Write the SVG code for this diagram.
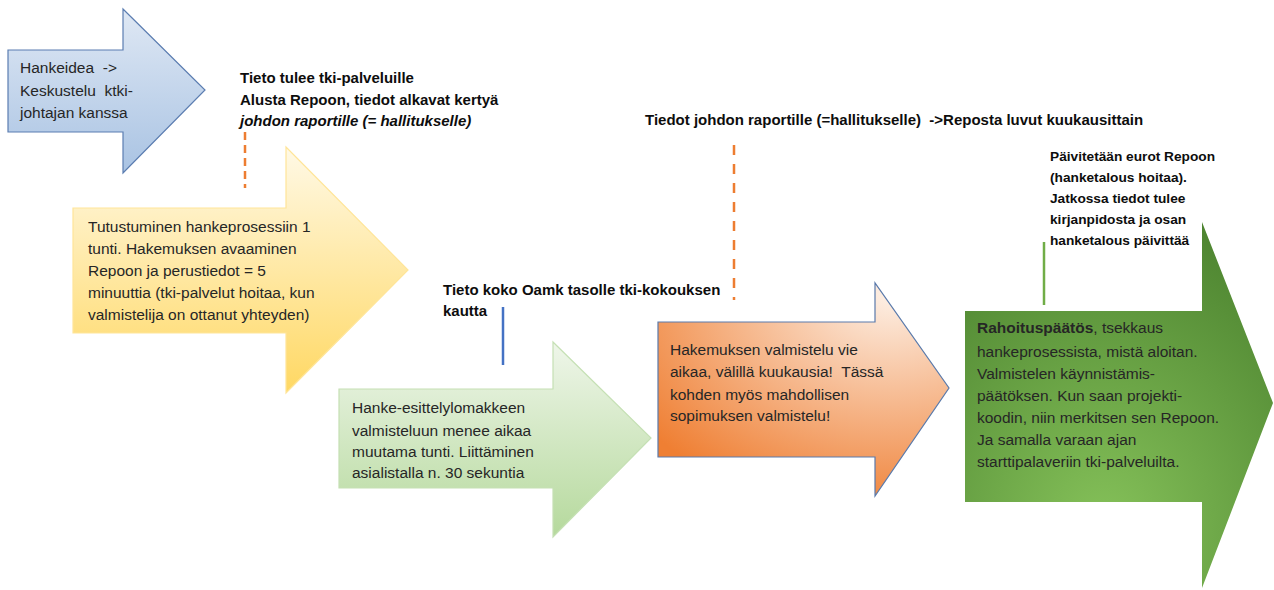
<svg xmlns="http://www.w3.org/2000/svg" width="1274" height="590" viewBox="0 0 1274 590">
<defs>
<linearGradient id="gBlue" x1="0" y1="0" x2="0" y2="1"><stop offset="0" stop-color="#dfe8f4"/><stop offset="1" stop-color="#a9c3e3"/></linearGradient>
<linearGradient id="gYellow" x1="0" y1="0" x2="0" y2="1"><stop offset="0" stop-color="#fff9e6"/><stop offset="1" stop-color="#ffd863"/></linearGradient>
<linearGradient id="gLGreen" x1="0" y1="0" x2="0" y2="1"><stop offset="0" stop-color="#eff6ea"/><stop offset="1" stop-color="#b5d99c"/></linearGradient>
<radialGradient id="gOrange" cx="0.8" cy="0.05" r="1.05"><stop offset="0" stop-color="#fdf0e6"/><stop offset="1" stop-color="#ef7f33"/></radialGradient>
<radialGradient id="gDGreen" cx="0.45" cy="0.85" r="0.9"><stop offset="0" stop-color="#86c25a"/><stop offset="1" stop-color="#4d8430"/></radialGradient>
</defs>
<style>
text{white-space:pre}
.t{font-family:"Liberation Sans",Arial,sans-serif;font-size:15.5px;fill:#262626}
.b{font-family:"Liberation Sans",Arial,sans-serif;font-size:15px;font-weight:bold;fill:#0d0d0d}
.s{font-family:"Liberation Sans",Arial,sans-serif;font-size:13.7px;font-weight:bold;fill:#0d0d0d}
</style>
<rect width="1274" height="590" fill="#ffffff"/>
<g id="connectors" fill="none">
<line x1="245" y1="132" x2="245" y2="188" stroke="#ed7d31" stroke-width="2.5" stroke-dasharray="8,5"/>
<line x1="734" y1="145" x2="734" y2="300" stroke="#ed7d31" stroke-width="2.5" stroke-dasharray="10,9"/>
<line x1="503" y1="307" x2="503" y2="365" stroke="#4472c4" stroke-width="2.5"/>
<line x1="1044" y1="242" x2="1044" y2="305" stroke="#70ad47" stroke-width="2.5"/>
</g>
<g id="node-idea">
<path d="M8,50 H123 V9 L205,90 L123,173 V132 H8 Z" fill="url(#gBlue)" stroke="#5b7db1" stroke-width="1.2"/>
<text class="t" x="20" y="73" xml:space="preserve">Hankeidea  -&gt;</text>
<text class="t" x="20" y="96" xml:space="preserve">Keskustelu  ktki-</text>
<text class="t" x="20" y="118">johtajan kanssa</text>
</g>
<g id="node-tutustuminen">
<path d="M73,208 H286 V147 L408,270 L286,393 V333 H73 Z" fill="url(#gYellow)" stroke="#ffe599" stroke-width="1.2"/>
<text class="t" x="88" y="232">Tutustuminen hankeprosessiin 1</text>
<text class="t" x="88" y="254">tunti. Hakemuksen avaaminen</text>
<text class="t" x="88" y="276">Repoon ja perustiedot = 5</text>
<text class="t" x="88" y="298">minuuttia (tki-palvelut hoitaa, kun</text>
<text class="t" x="88" y="320">valmistelija on ottanut yhteyden)</text>
</g>
<g id="node-esittely">
<path d="M339,389 H553 V342 L651,438 L553,537 V488 H339 Z" fill="url(#gLGreen)" stroke="#c5e0b4" stroke-width="1.2"/>
<text class="t" x="352" y="413">Hanke-esittelylomakkeen</text>
<text class="t" x="352" y="436">valmisteluun menee aikaa</text>
<text class="t" x="352" y="457">muutama tunti. Liittäminen</text>
<text class="t" x="352" y="478">asialistalla n. 30 sekuntia</text>
</g>
<g id="node-hakemus">
<path d="M658,322 H875 V283 L949,388 L875,496 V457 H658 Z" fill="url(#gOrange)" stroke="#5a7aab" stroke-width="1.2"/>
<text class="t" x="670" y="355">Hakemuksen valmistelu vie</text>
<text class="t" x="670" y="377" xml:space="preserve">aikaa, välillä kuukausia!  Tässä</text>
<text class="t" x="670" y="400">kohden myös mahdollisen</text>
<text class="t" x="670" y="421">sopimuksen valmistelu!</text>
</g>
<g id="node-rahoitus">
<path d="M965,311 H1202 V222 L1273,403 L1202,588 V502 H965 Z" fill="url(#gDGreen)"/>
<text class="t" x="977" y="333" fill="#1a1a1a"><tspan font-weight="bold">Rahoituspäätös</tspan>, tsekkaus</text>
<text class="t" x="977" y="357">hankeprosessista, mistä aloitan.</text>
<text class="t" x="977" y="379">Valmistelen käynnistämis-</text>
<text class="t" x="977" y="401">päätöksen. Kun saan projekti-</text>
<text class="t" x="977" y="423">koodin, niin merkitsen sen Repoon.</text>
<text class="t" x="977" y="445">Ja samalla varaan ajan</text>
<text class="t" x="977" y="467">starttipalaveriin tki-palveluilta.</text>
</g>
<g id="label-tieto-tulee">
<text class="b" x="240" y="83">Tieto tulee tki-palveluille</text>
<text class="b" x="240" y="105">Alusta Repoon, tiedot alkavat kertyä</text>
<text class="b" x="240" y="126" font-style="italic">johdon raportille (= hallitukselle)</text>
</g>
<g id="label-tiedot-johdon">
<text class="b" x="645" y="125" xml:space="preserve">Tiedot johdon raportille (=hallitukselle)  -&gt;Reposta luvut kuukausittain</text>
</g>
<g id="label-oamk">
<text class="b" x="443" y="295">Tieto koko Oamk tasolle tki-kokouksen</text>
<text class="b" x="443" y="316">kautta</text>
</g>
<g id="label-paivitetaan">
<text class="s" x="1050" y="161">Päivitetään eurot Repoon</text>
<text class="s" x="1050" y="182">(hanketalous hoitaa).</text>
<text class="s" x="1050" y="203">Jatkossa tiedot tulee</text>
<text class="s" x="1050" y="224">kirjanpidosta ja osan</text>
<text class="s" x="1050" y="245">hanketalous päivittää</text>
</g>
</svg>
